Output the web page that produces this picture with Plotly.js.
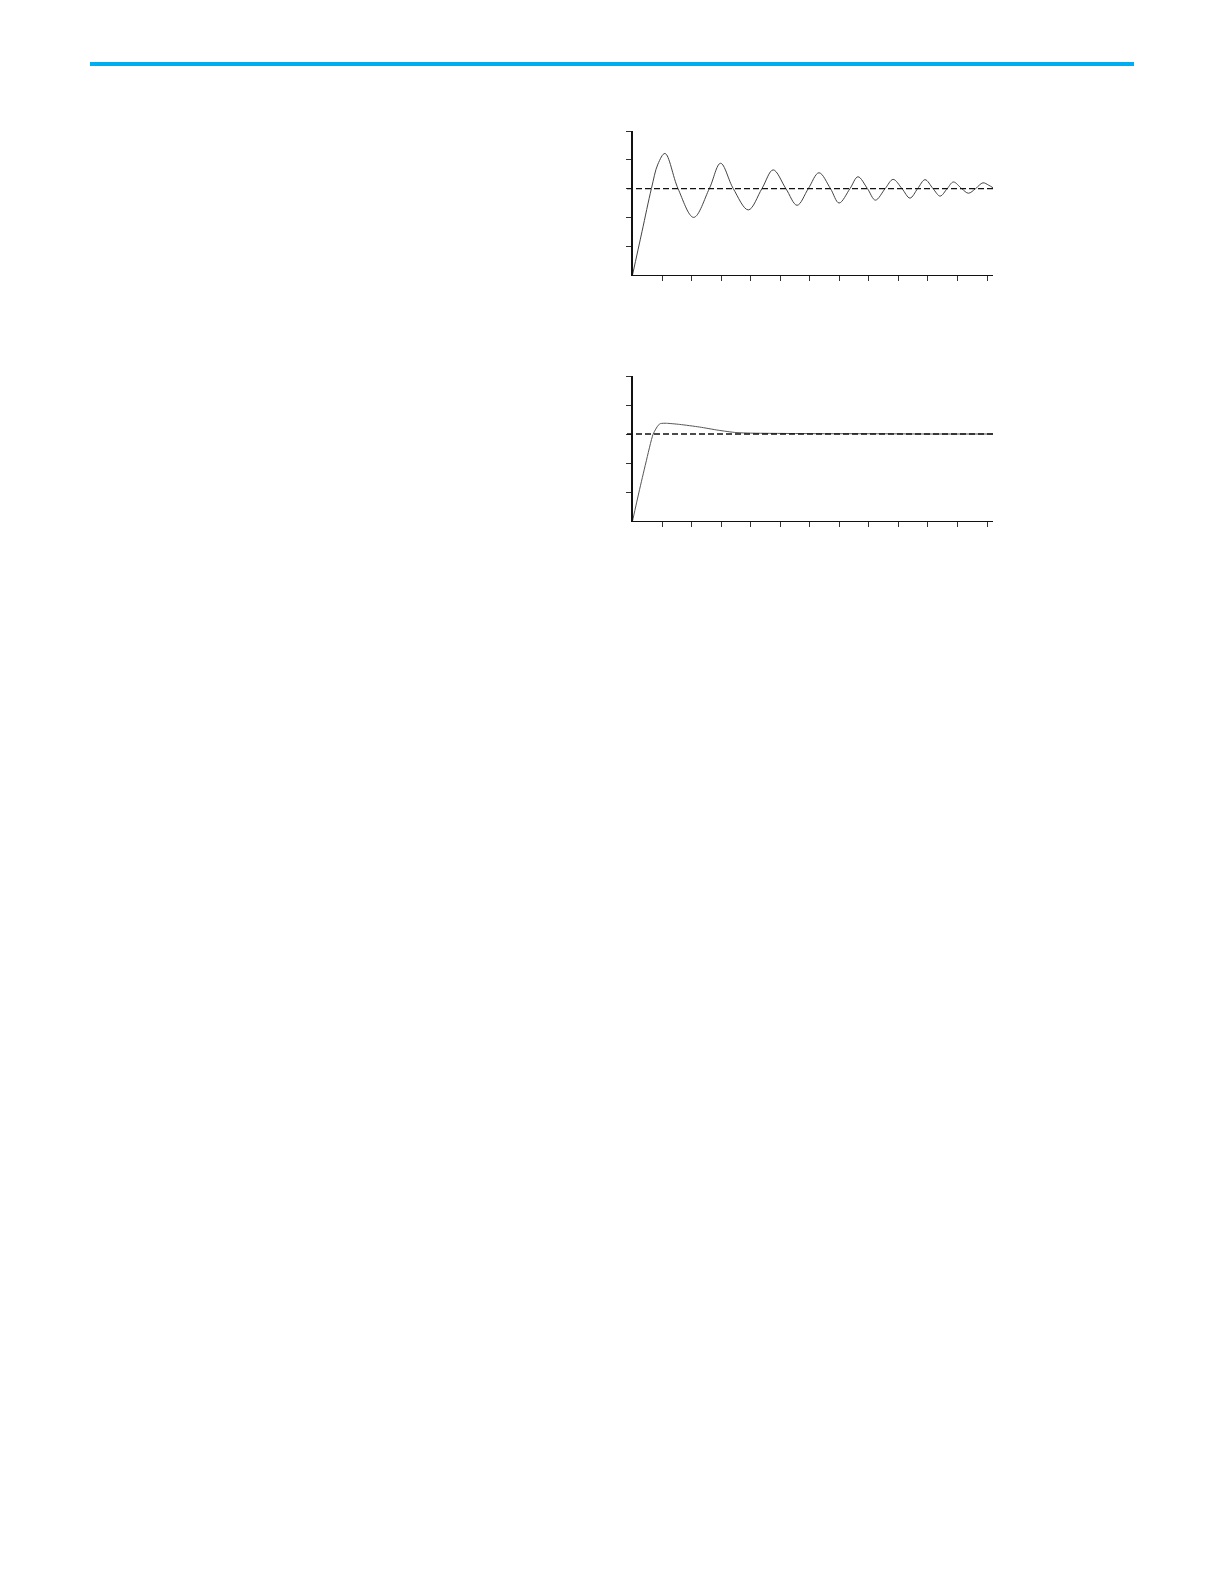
<!DOCTYPE html>
<html>
<head>
<meta charset="utf-8">
<script src="https://cdn.plot.ly/plotly-3.0.1.min.js"></script>
<style>
html,body{margin:0;padding:0;background:#fff;}
#chart{width:1224px;height:1584px;}
</style>
</head>
<body>
<div id="chart"></div>
<script>
// Top chart: oscillating response (time units, response units)
const topTime = [0, 0.32, 0.64, 0.86, 1.1, 1.54, 2.07, 2.6, 2.98, 3.41, 3.92, 4.38, 4.76, 5.19, 5.57, 5.95, 6.31, 6.7, 6.99, 7.36, 7.63, 7.95, 8.22, 8.55, 8.82, 9.12, 9.39, 9.65, 9.9, 10.17, 10.41, 10.65, 10.86, 11.14, 11.37, 11.61, 11.86, 12.05, 12.2];
const topValue = [0, 1.5, 3.0, 3.85, 4.22, 3.0, 2.0, 3.0, 3.88, 3.0, 2.26, 3.0, 3.65, 3.0, 2.42, 3.0, 3.55, 3.0, 2.5, 3.0, 3.41, 3.0, 2.6, 3.0, 3.32, 3.0, 2.67, 3.0, 3.31, 3.0, 2.74, 3.0, 3.23, 3.0, 2.84, 3.0, 3.2, 3.12, 3.03];

// Bottom chart: well-damped response
const bottomTime = [0, 0.22, 0.45, 0.7, 0.87, 0.95, 1.15, 1.6, 2.27, 2.9, 3.5, 4.0, 5.0, 6.5, 8.0, 10.0, 12.2];
const bottomValue = [0, 1.0, 2.0, 3.0, 3.3, 3.36, 3.37, 3.33, 3.24, 3.13, 3.05, 3.03, 3.02, 3.01, 3.01, 3.0, 3.0];

// Setpoint level and tick positions
const setpoint = 3;
const xTicks = [1, 2, 3, 4, 5, 6, 7, 8, 9, 10, 11, 12];
const yTicks = [1, 2, 3, 4, 5];

const W = 1224, H = 1584;
const px = v => v / W;
const py = v => 1 - v / H;

const traces = [
  {x: topTime, y: topValue, xaxis: 'x', yaxis: 'y', mode: 'lines',
   line: {color: '#444444', width: 1, shape: 'spline', smoothing: 1}, hoverinfo: 'skip'},
  {x: bottomTime, y: bottomValue, xaxis: 'x2', yaxis: 'y2', mode: 'lines',
   line: {color: '#555555', width: 1, shape: 'spline', smoothing: 0.6}, hoverinfo: 'skip'}
];

const xdom = [px(632.5), px(993)];
function xax(anchor) {
  return {domain: xdom, range: [0, 12.2], anchor: anchor, showgrid: false, zeroline: false,
    showline: true, linecolor: '#111', linewidth: 1.4, ticks: 'outside', ticklen: 5,
    tickwidth: 1, tickcolor: '#333', tickvals: xTicks, showticklabels: false, fixedrange: true};
}
function yax(dom, anchor) {
  return {domain: dom, range: [0, 5], anchor: anchor, showgrid: false, zeroline: false,
    showline: true, linecolor: '#111', linewidth: 1.4, ticks: 'outside', ticklen: 5,
    tickwidth: 1, tickcolor: '#333', tickvals: yTicks, showticklabels: false, fixedrange: true};
}

const layout = {
  width: W, height: H,
  margin: {l: 0, r: 0, t: 0, b: 0},
  paper_bgcolor: '#ffffff', plot_bgcolor: 'rgba(0,0,0,0)',
  showlegend: false,
  xaxis: xax('y'),
  yaxis: yax([py(275), py(131)], 'x'),
  xaxis2: xax('y2'),
  yaxis2: yax([py(521), py(376)], 'x2'),
  shapes: [
    {type: 'line', xref: 'paper', yref: 'paper', x0: px(90), x1: px(1134), y0: py(64), y1: py(64),
     line: {color: '#00aeef', width: 4}},
    {type: 'line', xref: 'paper', yref: 'y', x0: px(627), x1: px(993), y0: setpoint, y1: setpoint,
     line: {color: '#111', width: 1.3, dash: '6px,3px'}},
    {type: 'line', xref: 'paper', yref: 'y2', x0: px(627), x1: px(993), y0: setpoint, y1: setpoint,
     line: {color: '#111', width: 1.3, dash: '6px,3px'}}
  ]
};

Plotly.newPlot('chart', traces, layout, {displayModeBar: false, staticPlot: true});
</script>
</body>
</html>
